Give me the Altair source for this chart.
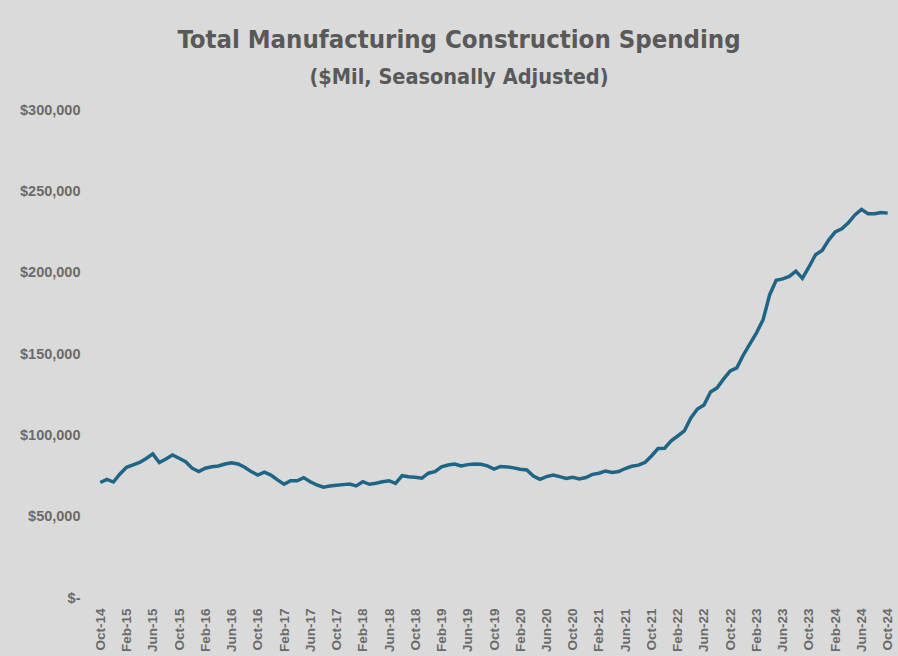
import altair as alt
import pandas as pd

# Monthly values, Oct-14 .. Oct-24 ($Mil, SA)
values = [
    71000, 72900, 71300, 76300, 80300, 81800, 83300, 85800, 88600, 83300,
    85500, 87900, 85900, 83800, 79800, 77700, 79800, 80700, 81200, 82400,
    83200, 82400, 80400, 77700, 75600, 77300, 75600, 72600, 69900, 72100,
    72100, 74000, 71500, 69500, 68100, 68900, 69300, 69700, 70100, 68900,
    71500, 69900, 70500, 71500, 72100, 70500, 75200, 74600, 74200, 73600,
    76700, 77700, 80700, 81800, 82400, 81200, 82000, 82400, 82200, 81200,
    79200, 80900, 80600, 80000, 79200, 78700, 75000, 73000, 74600, 75600,
    74600, 73500, 74200, 73200, 74100, 76000, 76700, 78100, 77200, 77700,
    79600, 81000, 81700, 83300, 87300, 91900, 92100, 96600, 99600, 102700,
    110700, 116200, 118700, 126700, 129200, 134700, 139600, 141500, 149400, 156200,
    163000, 171000, 186300, 195300, 196200, 197700, 201000, 196500, 203500, 211000,
    213700, 220000, 225000, 227000, 230600, 235500, 238900, 236200, 236200, 237000,
    236600,
]

month_names = ["Jan", "Feb", "Mar", "Apr", "May", "Jun",
               "Jul", "Aug", "Sep", "Oct", "Nov", "Dec"]
months = []
m, y = 9, 14
for _ in range(len(values)):
    months.append(f"{month_names[m]}-{y:02d}")
    m += 1
    if m == 12:
        m, y = 0, y + 1

tick_labels = ["Oct-14", "Feb-15", "Jun-15", "Oct-15", "Feb-16", "Jun-16",
               "Oct-16", "Feb-17", "Jun-17", "Oct-17", "Feb-18", "Jun-18",
               "Oct-18", "Feb-19", "Jun-19", "Oct-19", "Feb-20", "Jun-20",
               "Oct-20", "Feb-21", "Jun-21", "Oct-21", "Feb-22", "Jun-22",
               "Oct-22", "Feb-23", "Jun-23", "Oct-23", "Feb-24", "Jun-24",
               "Oct-24"]
y_ticks = [0, 50000, 100000, 150000, 200000, 250000, 300000]
zero_label = "$-" + "\u00a0" * 3

df = pd.DataFrame({"month": months, "value": values})

FONT = "DejaVu Sans Condensed, DejaVu Sans, sans-serif"
GRAY = "#595959"
LABEL_GRAY = "#6a6a6a"

chart = alt.Chart(df).mark_line(color="#1f6586", strokeWidth=3.5).encode(
    x=alt.X("month:O", sort=months, title=None,
            axis=alt.Axis(values=tick_labels, labelAngle=270, labelAlign="right",
                          labelBaseline="middle", labelPadding=10,
                          labelFontSize=13.5, labelFont="Liberation Sans",
                          labelColor=LABEL_GRAY, labelFontWeight="bold",
                          domain=False, ticks=False, grid=False,
                          labelOverlap=False)),
    y=alt.Y("value:Q", title=None,
            scale=alt.Scale(domain=[0, 300000], nice=False),
            axis=alt.Axis(values=y_ticks, domain=False, ticks=False, grid=False,
                          labelPadding=17, labelFontSize=14.5,
                          labelFont="Liberation Sans", labelFontWeight="bold",
                          labelColor=LABEL_GRAY,
                          labelExpr="datum.value == 0 ? '" + zero_label + "' : format(datum.value, '$,.0f')")),
).properties(
    width=794,
    height=488,
    title=alt.TitleParams(
        text="Total Manufacturing Construction Spending",
        subtitle="($Mil, Seasonally Adjusted)",
        font=FONT, subtitleFont=FONT,
        fontSize=25.5, subtitleFontSize=21.5,
        fontWeight="bold", subtitleFontWeight="bold",
        color=GRAY, subtitleColor=GRAY,
        anchor="middle", dx=-35, offset=14, subtitlePadding=13,
    ),
    autosize=alt.AutoSizeParams(type="none"),
    padding={"left": 97, "top": 110, "right": 7, "bottom": 58},
).configure(
    background="#dadada",
).configure_view(
    stroke=None,
)

chart.save("out.html", embed_options={"renderer": "svg", "actions": False})
